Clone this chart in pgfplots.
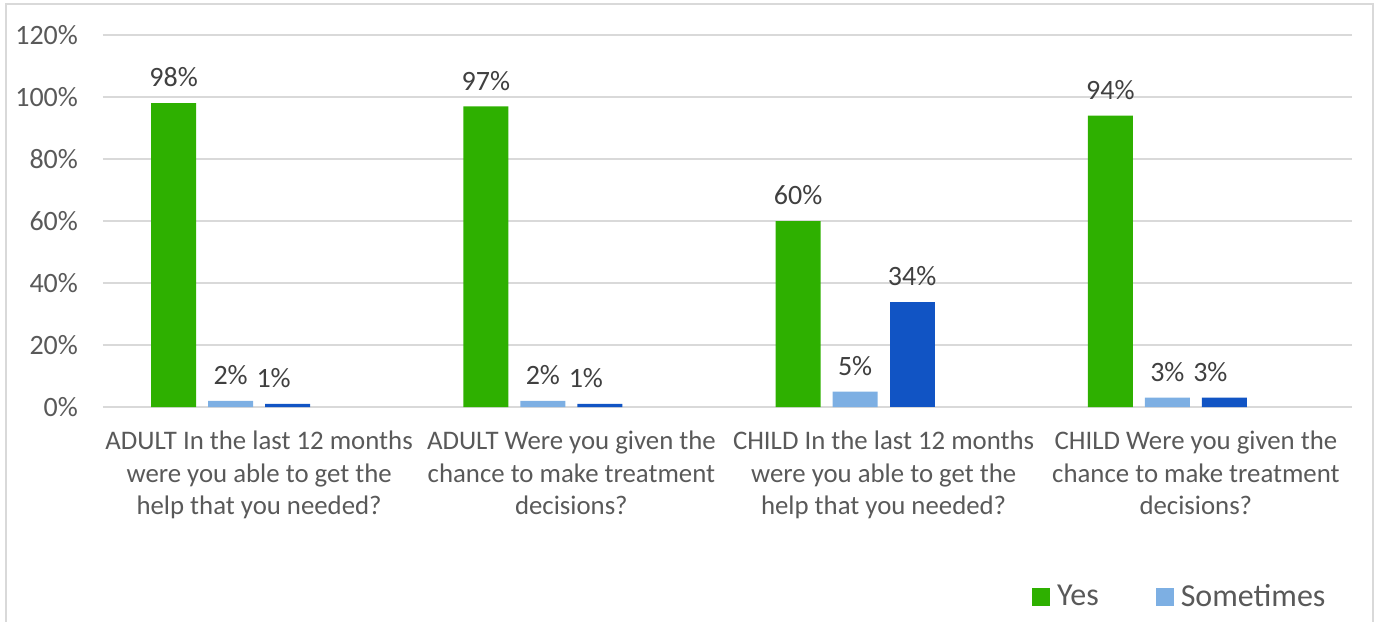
\documentclass[border=0pt]{standalone}
\usepackage{pgfplots}
\pgfplotsset{compat=1.18}
\usepackage{fontspec}
\setmainfont{Carlito}

\definecolor{yesgreen}{RGB}{46,176,0}
\definecolor{somelight}{RGB}{125,175,227}
\definecolor{darkblue}{RGB}{17,84,196}
\definecolor{gridgray}{RGB}{217,217,217}
\definecolor{ticktext}{RGB}{89,89,89}
\definecolor{labeltext}{RGB}{64,64,64}

\begin{document}
\begin{tikzpicture}
\useasboundingbox (-51.5pt,-107pt) rectangle (638.5pt,203.5pt);
% outer chart frame (bottom edge lies below the page)
\draw[gridgray, line width=0.8pt] (-48.5pt,-120pt) -- (-48.5pt,201.5pt) -- (635pt,201.5pt) -- (635pt,-120pt);
\begin{axis}[
  scale only axis,
  width=624.5pt, height=186pt,
  ybar,
  bar width=22.5pt,
  xmin=-0.5, xmax=3.5,
  ymin=0, ymax=120,
  ytick={0,20,...,120},
  xtick={0,1,2,3},
  xticklabels={
    {ADULT In the last 12 months\\were you able to get the\\help that you needed?},
    {ADULT Were you given the\\chance to make treatment\\decisions?},
    {CHILD In the last 12 months\\were you able to get the\\help that you needed?},
    {CHILD Were you given the\\chance to make treatment\\decisions?}},
  xticklabel style={align=center, font={\fontsize{13.4}{16.2}\selectfont}, text=ticktext, yshift=-8.5pt},
  yticklabel={\pgfmathprintnumber{\tick}\%},
  yticklabel style={font={\fontsize{14}{16}\selectfont}, text=ticktext, xshift=-9pt},
  /pgf/number format/assume math mode=true,
  major tick length=0pt,
  axis line style={draw=none},
  ymajorgrids,
  grid style={gridgray, line width=0.8pt},
  nodes near coords={\pgfmathprintnumber{\pgfplotspointmeta}\%},
  every node near coord/.append style={font={\fontsize{14}{16}\selectfont}, text=labeltext, anchor=south, yshift=4.5pt},
  legend style={draw=none, fill=none, inner sep=0pt, outer sep=0pt,
    at={(0.7438,-0.511)}, anchor=west, legend columns=-1,
    font={\fontsize{16}{18}\selectfont}, text=ticktext,
    nodes={inner sep=0pt},
    /tikz/every odd column/.append style={column sep=3.5pt},
    /tikz/every even column/.append style={column sep=28.5pt}},
  legend image code/.code={\fill[#1] (0pt,-4.5pt) rectangle (9pt,4.5pt);},
]
\addplot[fill=yesgreen, draw=none, bar shift=-42.75pt] coordinates {(0,98) (1,97) (2,60) (3,94)};
\addlegendentry{Yes}
\addplot[fill=somelight, draw=none, bar shift=-14.25pt] coordinates {(0,2) (1,2) (2,5) (3,3)};
\addlegendentry{Sometimes}
% third series: labels of the short bars sit slightly to the left
\addplot[fill=darkblue, draw=none, bar shift=14.25pt, forget plot,
  every node near coord/.append style={xshift=-7pt}] coordinates {(0,1) (1,1) (3,3)};
\addplot[fill=darkblue, draw=none, bar shift=14.25pt, forget plot] coordinates {(2,34)};
\end{axis}
\end{tikzpicture}
\end{document}
